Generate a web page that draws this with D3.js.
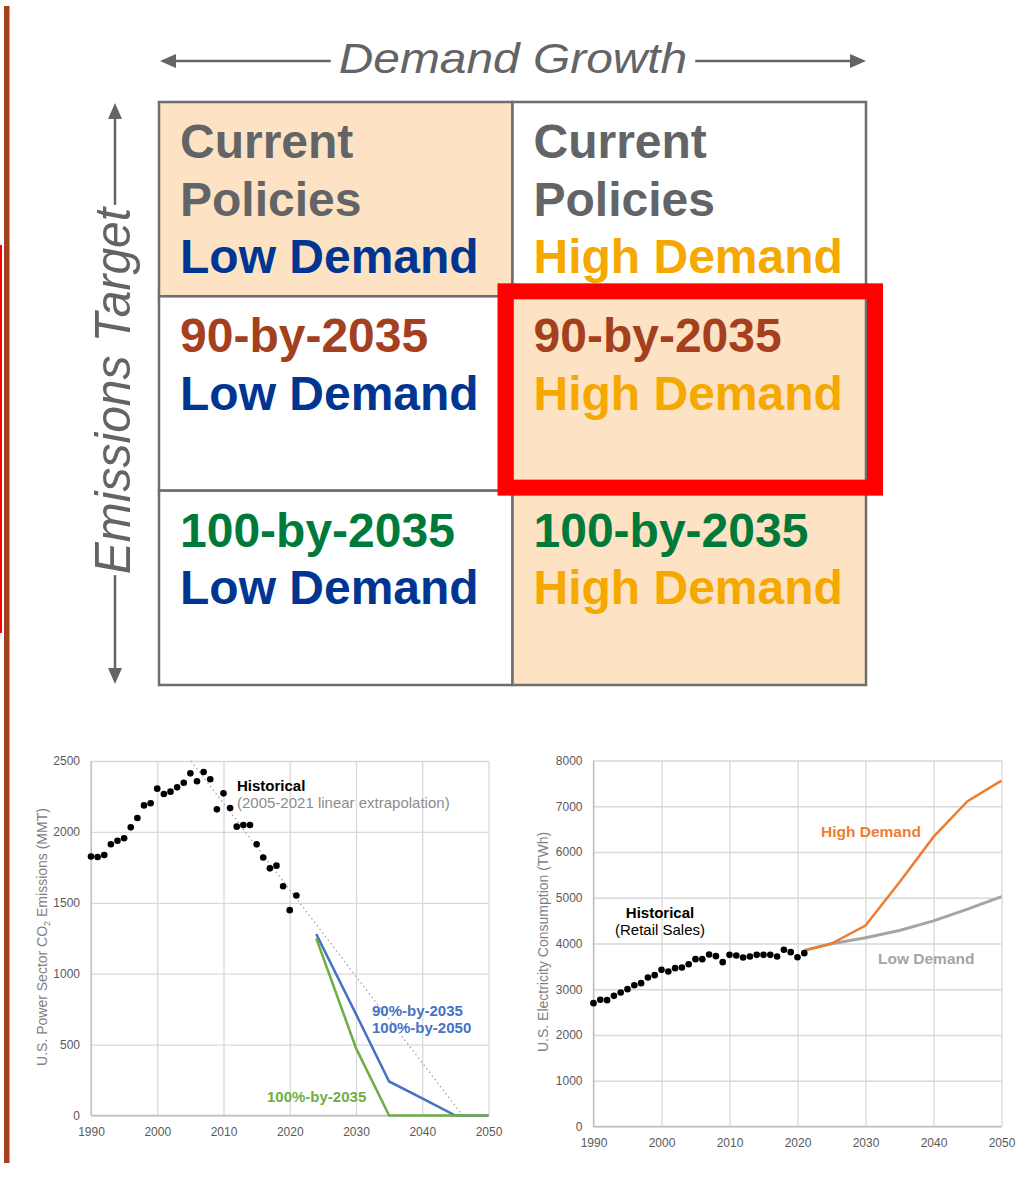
<!DOCTYPE html>
<html>
<head>
<meta charset="utf-8">
<script src="https://cdn.jsdelivr.net/npm/d3@7"></script>
<style>
  body { margin: 0; background: #fff; }
  svg { display: block; font-family: "Liberation Sans", Arial, sans-serif; }
</style>
</head>
<body>
<svg id="chart"></svg>
<script>
// ---------------- data ----------------
// scenario matrix
var policyLabels = [["Current", "Policies"], ["90-by-2035"], ["100-by-2035"]];
var policyColors = ["#636467", "#a5401f", "#007a3a"];
var demandLabels = ["Low Demand", "High Demand"];
var demandColors = ["#003591", "#f5a800"];
var shadedCells = [[0, 0], [1, 1], [2, 1]];   // [row, col]
var highlightCell = [1, 1];

// emissions chart (MMT)
var histYears = d3.range(1990, 2022);
var histEmissions = [1826, 1823, 1837, 1913, 1938, 1955, 2032, 2098, 2187, 2202,
  2305, 2267, 2284, 2314, 2347, 2413, 2357, 2422, 2371, 2159,
  2272, 2169, 2037, 2049, 2049, 1913, 1819, 1743, 1762, 1617,
  1448, 1551];
var trendYears = [2005.1, 2046.1];
var trendValues = [2500, 0];
var scenYears = [2024, 2030, 2035, 2040, 2045, 2050];
var em90by2035 = [1280, 715, 240, 120, 0, 0];
var em100by2035 = [1250, 475, 0, 0, 0, 0];

// consumption chart (TWh)
var histSales = [2696, 2769, 2762, 2856, 2929, 3002, 3089, 3133, 3257, 3308,
  3424, 3388, 3461, 3475, 3548, 3658, 3658, 3760, 3723, 3592,
  3752, 3738, 3694, 3716, 3752, 3752, 3752, 3716, 3862, 3811,
  3701, 3789];
var demandYears = [2021, 2025, 2030, 2035, 2040, 2045, 2050];
var highDemand = [3850, 4000, 4393, 5340, 6330, 7110, 7560];
var lowDemand = [3850, 3995, 4125, 4285, 4495, 4750, 5025];

var xTicks = [1990, 2000, 2010, 2020, 2030, 2040, 2050];
var emTicks = [0, 500, 1000, 1500, 2000, 2500];
var twhTicks = [0, 1000, 2000, 3000, 4000, 5000, 6000, 7000, 8000];

// ---------------- setup ----------------
var width = 1026, height = 1181;
var svg = d3.select("#chart").attr("width", width).attr("height", height);
var gray = "#636467";

// side bars
svg.append("rect").attr("x", 0).attr("y", 245).attr("width", 2).attr("height", 388).attr("fill", "#ff0000");
svg.append("rect").attr("x", 4).attr("y", 6).attr("width", 5.5).attr("height", 1157).attr("fill", "#a5401f");

// ---------------- matrix ----------------
var colX = d3.scaleBand().domain([0, 1]).range([159, 866]);
var rowY = d3.scaleBand().domain([0, 1, 2]).range([102, 685]);

var cells = [];
for (var r = 0; r < 3; r++) for (var c = 0; c < 2; c++) cells.push({r: r, c: c});
function isShaded(d) { return shadedCells.some(s => s[0] == d.r && s[1] == d.c); }

var cellG = svg.append("g").selectAll("g").data(cells).enter().append("g");
cellG.append("rect")
  .attr("x", d => colX(d.c)).attr("y", d => rowY(d.r))
  .attr("width", colX.bandwidth()).attr("height", rowY.bandwidth())
  .attr("fill", d => isShaded(d) ? "#fde3c4" : "#fff")
  .attr("stroke", "#6d6e71").attr("stroke-width", 2.5);

cellG.each(function(d) {
  var lines = policyLabels[d.r].map(t => ({t: t, col: policyColors[d.r]}));
  lines.push({t: demandLabels[d.c], col: demandColors[d.c]});
  d3.select(this).selectAll("text").data(lines).enter().append("text")
    .attr("x", colX(d.c) + 21)
    .attr("y", (l, i) => rowY(d.r) + 56 + i * 57.5)
    .attr("font-size", 48).attr("font-weight", "bold")
    .attr("fill", l => l.col)
    .text(l => l.t);
});

// highlight box
svg.append("rect")
  .attr("x", colX(highlightCell[1]) - 7)
  .attr("y", rowY(highlightCell[0]) - 5)
  .attr("width", colX.bandwidth() + 16)
  .attr("height", rowY.bandwidth() + 2)
  .attr("fill", "none").attr("stroke", "#ff0000").attr("stroke-width", 16);

// arrows + headers
var hText = svg.append("text")
  .attr("transform", "translate(513,73) scale(1.14,1)")
  .attr("text-anchor", "middle").attr("font-size", 42).attr("font-style", "italic")
  .attr("fill", gray).text("Demand Growth");
var hw = hText.node().getComputedTextLength() * 1.14 / 2;
svg.append("line").attr("x1", 170).attr("x2", 513 - hw - 8).attr("y1", 61).attr("y2", 61)
  .attr("stroke", gray).attr("stroke-width", 2.5);
svg.append("line").attr("x1", 513 + hw + 8).attr("x2", 856).attr("y1", 61).attr("y2", 61)
  .attr("stroke", gray).attr("stroke-width", 2.5);
svg.append("path").attr("d", "M160,61L176,54L176,68Z").attr("fill", gray);
svg.append("path").attr("d", "M866,61L850,54L850,68Z").attr("fill", gray);

var vText = svg.append("text")
  .attr("transform", "translate(130,391) scale(1.05,1) rotate(-90)")
  .attr("text-anchor", "middle").attr("font-size", 48).attr("font-style", "italic")
  .attr("fill", gray).text("Emissions Target");
var vh = vText.node().getComputedTextLength() / 2;
svg.append("line").attr("x1", 115).attr("x2", 115).attr("y1", 113).attr("y2", 391 - vh - 3)
  .attr("stroke", gray).attr("stroke-width", 2.5);
svg.append("line").attr("x1", 115).attr("x2", 115).attr("y1", 391 + vh + 1).attr("y2", 674)
  .attr("stroke", gray).attr("stroke-width", 2.5);
svg.append("path").attr("d", "M115,103L108,119L122,119Z").attr("fill", gray);
svg.append("path").attr("d", "M115,684L108,668L122,668Z").attr("fill", gray);

// ---------------- charts ----------------
function frame(x, y, yTicks, xPad) {
  var g = svg.append("g");
  var x0 = x.range()[0], x1 = x.range()[1], y0 = y.range()[0], y1 = y.range()[1];
  g.append("g").attr("transform", "translate(0," + y0 + ")")
    .call(d3.axisBottom(x).tickValues(xTicks).tickFormat(d3.format("d"))
      .tickSize(-(y0 - y1)).tickPadding(xPad))
    .call(a => a.select(".domain").remove());
  g.append("g").attr("transform", "translate(" + x0 + ",0)")
    .call(d3.axisLeft(y).tickValues(yTicks).tickFormat(d3.format("d"))
      .tickSize(-(x1 - x0)).tickPadding(11))
    .call(a => a.select(".domain").remove());
  g.selectAll(".tick line").attr("stroke", "#d9d9d9").attr("stroke-width", 1.3);
  g.selectAll(".tick text").attr("fill", "#595959").attr("font-size", 12)
    .attr("font-family", "Liberation Sans, Arial, sans-serif");
  g.append("line").attr("x1", x0).attr("x2", x1).attr("y1", y0).attr("y2", y0)
    .attr("stroke", "#bfbfbf").attr("stroke-width", 1.3);
  g.append("line").attr("x1", x0).attr("x2", x0).attr("y1", y0).attr("y2", y1)
    .attr("stroke", "#bfbfbf").attr("stroke-width", 1.3);
  return g;
}

// left: emissions
var xL = d3.scaleLinear().domain([1990, 2050]).range([91, 488.5]);
var yL = d3.scaleLinear().domain([0, 2500]).range([1115.5, 761]);
var gL = frame(xL, yL, emTicks, 12);
var lineL = d3.line().x(d => xL(d[0])).y(d => yL(d[1]));

gL.append("path").datum(d3.zip(trendYears, trendValues)).attr("d", lineL)
  .attr("fill", "none").attr("stroke", "#a6a6a6").attr("stroke-width", 1.3)
  .attr("stroke-dasharray", "1.5,3");
gL.selectAll("circle").data(d3.zip(histYears, histEmissions)).enter().append("circle")
  .attr("cx", d => xL(d[0])).attr("cy", d => yL(d[1])).attr("r", 3.3).attr("fill", "#000");
gL.append("path").datum(d3.zip(scenYears, em90by2035)).attr("d", lineL)
  .attr("fill", "none").attr("stroke", "#4472c4").attr("stroke-width", 2.5);
gL.append("path").datum(d3.zip(scenYears, em100by2035)).attr("d", lineL)
  .attr("fill", "none").attr("stroke", "#70ad47").attr("stroke-width", 2.5);

gL.append("text").attr("x", 237).attr("y", 791).attr("font-size", 15).attr("font-weight", "bold")
  .attr("fill", "#000").text("Historical");
gL.append("text").attr("x", 237).attr("y", 808).attr("font-size", 15)
  .attr("fill", "#8c8c8c").text("(2005-2021 linear extrapolation)");
gL.append("text").attr("x", 372).attr("y", 1016).attr("font-size", 15).attr("font-weight", "bold")
  .attr("fill", "#4472c4").text("90%-by-2035");
gL.append("text").attr("x", 372).attr("y", 1033).attr("font-size", 15).attr("font-weight", "bold")
  .attr("fill", "#4472c4").text("100%-by-2050");
gL.append("text").attr("x", 267).attr("y", 1102).attr("font-size", 15).attr("font-weight", "bold")
  .attr("fill", "#70ad47").text("100%-by-2035");

var tL = gL.append("text").attr("transform", "translate(47,937) rotate(-90)")
  .attr("text-anchor", "middle").attr("font-size", 14).attr("fill", "#7f7f7f");
tL.append("tspan").text("U.S. Power Sector CO");
tL.append("tspan").attr("font-size", 9).attr("dy", 3).text("2");
tL.append("tspan").attr("dy", -3).text(" Emissions (MMT)");

// right: consumption
var xR = d3.scaleLinear().domain([1990, 2050]).range([593.5, 1001.5]);
var yR = d3.scaleLinear().domain([0, 8000]).range([1126.5, 760.5]);
var gR = frame(xR, yR, twhTicks, 11.5);
var lineR = d3.line().x(d => xR(d[0])).y(d => yR(d[1]));

gR.append("path").datum(d3.zip(demandYears, lowDemand)).attr("d", lineR)
  .attr("fill", "none").attr("stroke", "#a5a5a5").attr("stroke-width", 3);
gR.append("path").datum(d3.zip(demandYears, highDemand)).attr("d", lineR)
  .attr("fill", "none").attr("stroke", "#ed7d31").attr("stroke-width", 2.5);
gR.selectAll("circle").data(d3.zip(histYears, histSales)).enter().append("circle")
  .attr("cx", d => xR(d[0])).attr("cy", d => yR(d[1])).attr("r", 3.3).attr("fill", "#000");

gR.append("text").attr("x", 660).attr("y", 918).attr("text-anchor", "middle")
  .attr("font-size", 15).attr("font-weight", "bold").attr("fill", "#000").text("Historical");
gR.append("text").attr("x", 660).attr("y", 935).attr("text-anchor", "middle")
  .attr("font-size", 15).attr("fill", "#000").text("(Retail Sales)");
gR.append("text").attr("x", 821).attr("y", 837).attr("font-size", 15.5).attr("font-weight", "bold")
  .attr("fill", "#ed7d31").text("High Demand");
gR.append("text").attr("x", 878).attr("y", 964).attr("font-size", 15.5).attr("font-weight", "bold")
  .attr("fill", "#a5a5a5").text("Low Demand");

gR.append("text").attr("transform", "translate(548,942) rotate(-90)")
  .attr("text-anchor", "middle").attr("font-size", 14).attr("fill", "#7f7f7f")
  .text("U.S. Electricity Consumption (TWh)");
</script>
</body>
</html>
